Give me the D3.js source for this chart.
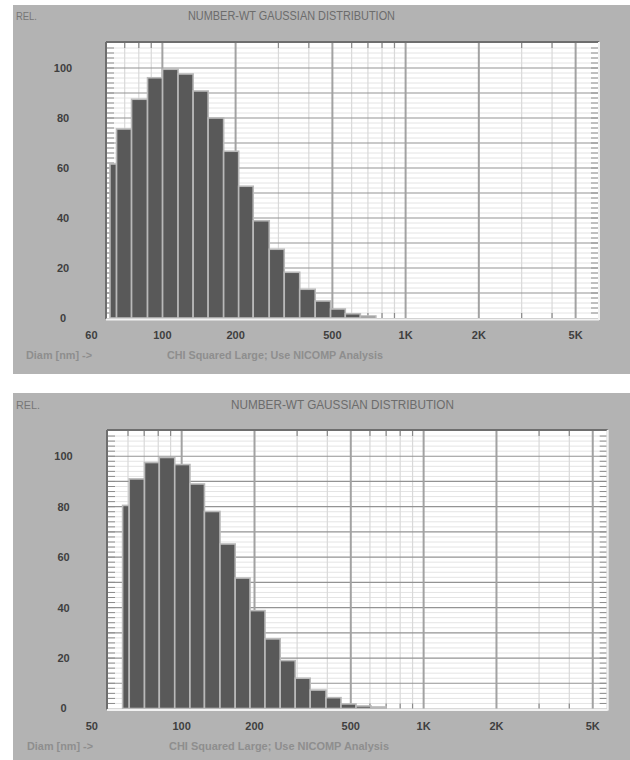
<!DOCTYPE html>
<html>
<head>
<meta charset="utf-8">
<script src="https://cdn.jsdelivr.net/npm/d3@7"></script>
<style>
  body { margin: 0; background: #fff; }
  svg { display: block; }
  text { font-family: "Liberation Sans", Arial, sans-serif; }
</style>
</head>
<body>
<div id="chart"></div>
<script>
// upper chart - bin edges (nm) and relative number
var edges1 = [60.9, 64.8, 74.7, 86.9, 100.2, 116, 133.8, 154.2, 178.6, 205.9, 236.3, 275, 317, 367, 425, 491.5, 565, 651.5, 754.6]
var values1 = [61.6, 75.6, 87.5, 96.1, 99.5, 97.6, 90.8, 80.0, 66.7, 52.7, 38.9, 27.5, 18.3, 11.5, 6.8, 3.6, 1.7, 0.8]

// lower chart
var edges2 = [57.0, 60.7, 70.2, 80.8, 93.6, 108.2, 124.2, 144.0, 166.4, 191.6, 221.0, 255.4, 294.6, 339.8, 395.0, 455.5, 525.5, 606.2, 699.2]
var values2 = [80.5, 91.0, 97.5, 99.5, 96.7, 89.0, 78.1, 65.2, 51.7, 38.8, 27.6, 19.0, 12.0, 7.3, 4.3, 1.8, 1.0, 0.6]

// axis ticks
var yTicks = [0, 20, 40, 60, 80, 100]
var xTicks1 = [60, 100, 200, 500, 1000, 2000, 5000]
var xLabels1 = ["60", "100", "200", "500", "1K", "2K", "5K"]
var xTicks2 = [50, 100, 200, 500, 1000, 2000, 5000]
var xLabels2 = ["50", "100", "200", "500", "1K", "2K", "5K"]
var majorX = [100, 200, 500, 1000, 2000, 5000]
var minorX1 = [70, 80, 90, 300, 400, 600, 700, 800, 900, 3000, 4000]
var minorX2 = [60, 70, 80, 90, 300, 400, 600, 700, 800, 900, 3000, 4000]

var titleText = "NUMBER-WT GAUSSIAN DISTRIBUTION"
var footText = "CHI Squared Large; Use NICOMP Analysis"

var svg = d3.select("#chart").append("svg")
  .attr("width", 630)
  .attr("height", 760);

function drawPanel(p) {
  var g = svg.append("g");

  // grey panel
  g.append("rect")
    .attr("x", p.box[0]).attr("y", p.box[1])
    .attr("width", p.box[2]).attr("height", p.box[3])
    .attr("fill", "#b3b3b3");

  var x = d3.scaleLog().domain(p.xDomain).range([p.l, p.r]);
  var y = d3.scaleLinear().domain([0, 110]).range([p.b, p.t]);

  // plot area
  g.append("rect")
    .attr("x", p.l).attr("y", p.t)
    .attr("width", p.r - p.l).attr("height", p.b - p.t)
    .attr("fill", "#fff");

  // fine horizontal lines every 2
  var fine = d3.range(2, 110, 2).filter(d => d % 10 != 0);
  g.selectAll(".hfine").data(fine).enter().append("line")
    .attr("x1", p.l).attr("x2", p.r)
    .attr("y1", d => y(d)).attr("y2", d => y(d))
    .attr("stroke", "#e4e4e4").attr("stroke-width", 1);

  // minor verticals
  g.selectAll(".vminor").data(p.minorX).enter().append("line")
    .attr("x1", d => x(d)).attr("x2", d => x(d))
    .attr("y1", p.t).attr("y2", p.b)
    .attr("stroke", "#d9d9d9").attr("stroke-width", 1.2);
  // little dark ticks top and bottom
  g.selectAll(".vtickT").data(p.minorX).enter().append("line")
    .attr("x1", d => x(d)).attr("x2", d => x(d))
    .attr("y1", p.t).attr("y2", p.t + 5)
    .attr("stroke", "#8a8a8a").attr("stroke-width", 1.2);
  g.selectAll(".vtickB").data(p.minorX).enter().append("line")
    .attr("x1", d => x(d)).attr("x2", d => x(d))
    .attr("y1", p.b - 5).attr("y2", p.b)
    .attr("stroke", "#8a8a8a").attr("stroke-width", 1.2);

  // major horizontals every 10
  g.selectAll(".hmajor").data(d3.range(10, 110, 10)).enter().append("line")
    .attr("x1", p.l).attr("x2", p.r)
    .attr("y1", d => y(d)).attr("y2", d => y(d))
    .attr("stroke", "#939393").attr("stroke-width", 1.2);

  // major verticals
  g.selectAll(".vmajor").data(majorX).enter().append("line")
    .attr("x1", d => x(d)).attr("x2", d => x(d))
    .attr("y1", p.t).attr("y2", p.b)
    .attr("stroke", "#a2a2a2").attr("stroke-width", 2);

  // side ticks left and right
  var sideTicks = d3.range(2, 110, 2);
  g.selectAll(".tl").data(sideTicks).enter().append("line")
    .attr("x1", p.l).attr("x2", p.l + 7)
    .attr("y1", d => y(d)).attr("y2", d => y(d))
    .attr("stroke", "#8c8c8c").attr("stroke-width", 1);
  g.selectAll(".tr").data(sideTicks).enter().append("line")
    .attr("x1", p.r - 7).attr("x2", p.r)
    .attr("y1", d => y(d)).attr("y2", d => y(d))
    .attr("stroke", "#8c8c8c").attr("stroke-width", 1);

  // bars
  g.selectAll(".bar").data(p.values).enter().append("rect")
    .attr("x", (d, i) => x(p.edges[i]))
    .attr("y", d => y(d))
    .attr("width", (d, i) => x(p.edges[i + 1]) - x(p.edges[i]))
    .attr("height", d => y(0) - y(d))
    .attr("fill", "#595959")
    .attr("stroke", "#b9b9b9")
    .attr("stroke-width", 1.6);

  // sunken frame
  g.append("line").attr("x1", p.l - 1).attr("x2", p.r + 1).attr("y1", p.t - 1).attr("y2", p.t - 1)
    .attr("stroke", "#6e6e6e").attr("stroke-width", 2);
  g.append("line").attr("x1", p.l - 1).attr("x2", p.l - 1).attr("y1", p.t - 1).attr("y2", p.b + 1)
    .attr("stroke", "#6e6e6e").attr("stroke-width", 2);
  g.append("line").attr("x1", p.l - 1).attr("x2", p.r + 1).attr("y1", p.b + 1.5).attr("y2", p.b + 1.5)
    .attr("stroke", "#f2f2f2").attr("stroke-width", 2);
  g.append("line").attr("x1", p.r + 1).attr("x2", p.r + 1).attr("y1", p.t - 1).attr("y2", p.b + 2)
    .attr("stroke", "#f2f2f2").attr("stroke-width", 2);

  // y labels
  g.selectAll(".ylab").data(yTicks).enter().append("text")
    .attr("x", p.yLabX).attr("y", d => y(d))
    .attr("dy", "0.36em")
    .attr("text-anchor", "middle")
    .attr("font-size", 11).attr("font-weight", "bold")
    .attr("fill", "#3f3f3f")
    .text(d => d);

  // x labels (first one sits left of the frame)
  g.selectAll(".xlab").data(p.xTicks).enter().append("text")
    .attr("x", (d, i) => x(d) + (i == 0 ? -17 : 0))
    .attr("y", p.xLabY)
    .attr("text-anchor", "middle")
    .attr("font-size", 11).attr("font-weight", "bold")
    .attr("fill", "#3f3f3f")
    .text((d, i) => p.xLabels[i]);

  // header
  g.append("text").attr("x", p.box[0] + 3).attr("y", p.titleY)
    .attr("font-size", 10).attr("fill", "#767676")
    .attr("textLength", p.relW).attr("lengthAdjust", "spacingAndGlyphs")
    .text("REL.");
  g.append("text").attr("x", p.titleX).attr("y", p.titleY)
    .attr("font-size", 12).attr("fill", "#6c6c6c")
    .attr("textLength", p.titleW).attr("lengthAdjust", "spacingAndGlyphs")
    .text(titleText);

  // footer
  g.append("text").attr("x", p.diamX).attr("y", p.footY)
    .attr("font-size", 10).attr("font-weight", "bold").attr("fill", "#8e8e8e")
    .attr("textLength", 66).attr("lengthAdjust", "spacingAndGlyphs")
    .text("Diam [nm] ->");
  g.append("text").attr("x", p.chiX).attr("y", p.footY)
    .attr("font-size", 10).attr("font-weight", "bold").attr("fill", "#8e8e8e")
    .attr("textLength", p.chiW).attr("lengthAdjust", "spacingAndGlyphs")
    .text(footText);
}

drawPanel({
  box: [13, 5, 617, 369],
  l: 107, r: 598, t: 43, b: 318,
  xDomain: [59.2, 6180],
  edges: edges1, values: values1,
  xTicks: xTicks1, xLabels: xLabels1, minorX: minorX1,
  yLabX: 63, xLabY: 339,
  titleX: 188, titleY: 20, titleW: 207, relW: 21,
  footY: 359, diamX: 26, chiX: 167, chiW: 216
});

drawPanel({
  box: [13, 393, 617, 367],
  l: 108, r: 606.7, t: 431, b: 708.5,
  xDomain: [49.6, 5710],
  edges: edges2, values: values2,
  xTicks: xTicks2, xLabels: xLabels2, minorX: minorX2,
  yLabX: 63.5, xLabY: 729.5,
  titleX: 231, titleY: 409, titleW: 223, relW: 24,
  footY: 749.5, diamX: 27, chiX: 169, chiW: 220
});
</script>
</body>
</html>
